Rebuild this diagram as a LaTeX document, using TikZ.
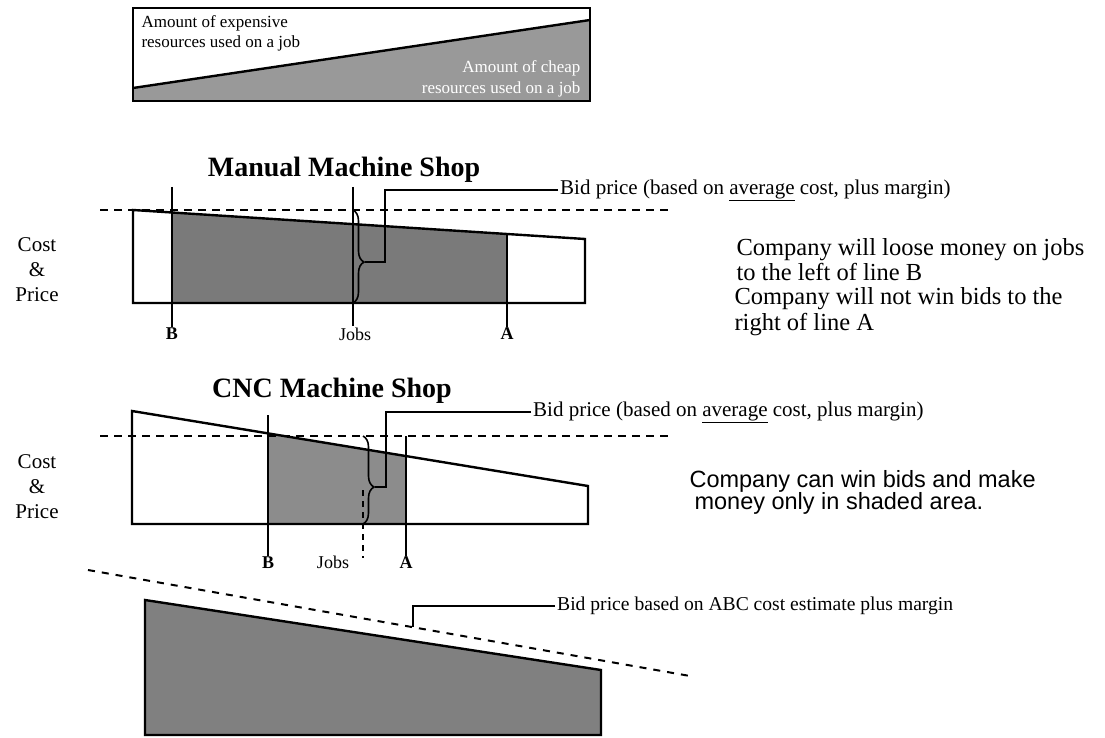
\documentclass[tikz,border=0pt]{standalone}
\usepackage{fontspec}
\setmainfont{Liberation Serif}
\setsansfont{Liberation Sans}
\usetikzlibrary{decorations.pathreplacing}

\begin{document}
\begin{tikzpicture}[x=1pt,y=-1pt,
  outline/.style={line width=2.4pt,line join=miter},
  cutline/.style={line width=1.5pt},
  bidline/.style={line width=2pt,dash pattern=on 8pt off 6pt},
  leader/.style={line width=2pt},
  bracket/.style={line width=1.6pt,decorate,decoration={brace,amplitude=11pt,aspect=#1}},
  title/.style={font=\bfseries\fontsize{28}{32}\selectfont},
  axis/.style={align=center,font=\fontsize{21}{25}\selectfont},
  tick/.style={font=\fontsize{18}{20}\selectfont,inner sep=1pt},
  bidtext/.style={anchor=west,inner sep=2pt,font=\fontsize{21}{24}\selectfont},
  note/.style={anchor=west,align=left,font=\fontsize{24.5}{25.5}\selectfont}]
  \useasboundingbox (0,0) rectangle (1105,738);

  % resources box
  \fill[black!40] (133,88) -- (590,20) -- (590,101) -- (133,101) -- cycle;
  \draw[outline] (133,8) rectangle (590,101);
  \draw[outline] (133,88) -- (590,20);
  \node[anchor=west,align=left,font=\fontsize{17}{20}\selectfont] (expensive) at (138,33) {Amount of expensive\\resources used on a job};
  \node[anchor=east,align=right,text=white,font=\fontsize{17}{21}\selectfont] (cheap) at (584,79) {Amount of cheap\\resources used on a job};

  % manual machine shop
  \node[title] (manual) at (344,170) {Manual Machine Shop};
  \fill[black!52] (172,212.5) -- (507,234.5) -- (507,303) -- (172,303) -- cycle;
  \draw[outline] (133,303) -- (133,210) -- (585,239) -- (585,303) -- cycle;
  \draw[bidline] (100,210) -- (670,210);
  \node[axis] (mcost) at (37,270) {Cost\\\&\\Price};
  \node[tick,font=\bfseries\fontsize{18}{20}\selectfont] (mB) at (172,334) {B};
  \node[tick] (mJobs) at (355,334) {Jobs};
  \node[tick,font=\bfseries\fontsize{18}{20}\selectfont] (mA) at (507,334) {A};
  \coordinate (mBtop) at (172,187);
  \coordinate (mJtop) at (353,187);
  \coordinate (mAtop) at (507,234.5);
  \draw[cutline] (mBtop) -- (mB.north);
  \draw[cutline] (mJtop) -- (mJobs.north -| mJtop);
  \draw[cutline] (mAtop) -- (mA.north);
  \draw[bracket=0.56] (353,210) -- (353,303);
  \coordinate (mTip) at (365,262);
  \coordinate (mKnee) at (385,190);
  \node[bidtext] (mbid) at (558,190) {Bid price (based on \underline{average} cost, plus margin)};
  \draw[leader] (mbid.west) -- (mKnee) |- (mTip);
  \node[note] (lose) at (733,259.5) {Company will loose money on jobs\\to the left of line B};
  \node[note] (nowin) at (731,311.5) {Company will not win bids to the\\right of line A};

  % cnc machine shop
  \node[title] (cnc) at (332,391) {CNC Machine Shop};
  \fill[black!45] (268,433.4) -- (406,456.1) -- (406,524) -- (268,524) -- cycle;
  \draw[outline] (132,524) -- (132,411) -- (588,486) -- (588,524) -- cycle;
  \draw[bidline] (100,436) -- (668,436);
  \node[axis] (ccost) at (37,487) {Cost\\\&\\Price};
  \node[tick,font=\bfseries\fontsize{18}{20}\selectfont] (cB) at (268,563) {B};
  \node[tick] (cJobs) at (333,562) {Jobs};
  \node[tick,font=\bfseries\fontsize{18}{20}\selectfont] (cA) at (406,563) {A};
  \coordinate (cBtop) at (268,415);
  \coordinate (cJtop) at (363,490);
  \coordinate (cJend) at (363,558);
  \coordinate (cAtop) at (406,436);
  \draw[cutline] (cBtop) -- (cB.north);
  \draw[cutline,dash pattern=on 6pt off 5pt] (cJtop) -- (cJend);
  \draw[cutline] (cAtop) -- (cA.north);
  \draw[bracket=0.58] (363,436) -- (363,524);
  \coordinate (cTip) at (375,487);
  \coordinate (cKnee) at (386,412);
  \node[bidtext] (cbid) at (531,412) {Bid price (based on \underline{average} cost, plus margin)};
  \draw[leader] (cbid.west) -- (cKnee) |- (cTip);
  \node[anchor=west,align=left,font=\sffamily\fontsize{23.5}{22}\selectfont] (shaded) at (686,492.5) {Company can win bids and make\\\hspace*{5pt}money only in shaded area.};

  % abc costing
  \fill[black!50] (145,600) -- (601,670) -- (601,735) -- (145,735) -- cycle;
  \draw[outline] (145,600) -- (601,670) -- (601,735) -- (145,735) -- cycle;
  \draw[bidline,dash pattern=on 7pt off 7pt] (88,570) -- (690,676);
  \coordinate (abcTip) at (413,627);
  \coordinate (abcKnee) at (413,606);
  \node[bidtext,font=\fontsize{19.6}{22}\selectfont] (abcbid) at (555,606) {Bid price based on ABC cost estimate plus margin};
  \draw[leader] (abcbid.west) -- (abcKnee) -- (abcTip);
\end{tikzpicture}
\end{document}
